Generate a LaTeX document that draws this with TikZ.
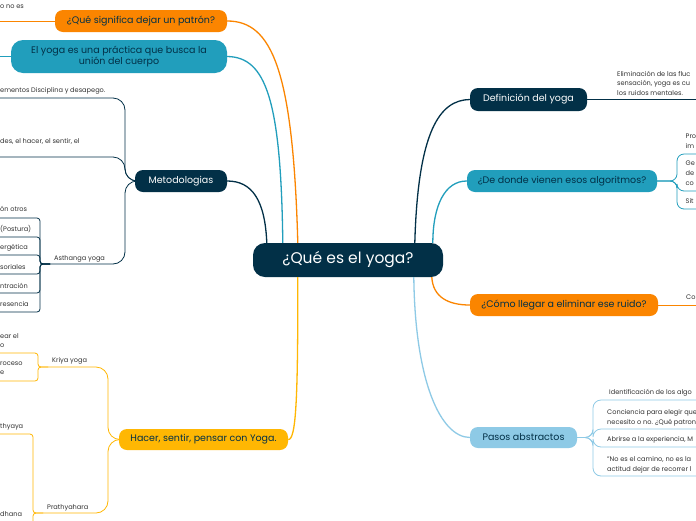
\documentclass[tikz,border=0pt]{standalone}
\usepackage{fontspec}
\setmainfont{Poppins}
\usetikzlibrary{calc}
\definecolor{cNavy}{HTML}{023047}
\definecolor{cTeal}{HTML}{219EBC}
\definecolor{cSky}{HTML}{8ECAE6}
\definecolor{cAmber}{HTML}{FFB703}
\definecolor{cOrange}{HTML}{FB8500}
\tikzset{
  topic/.style={rounded corners=8pt, inner sep=0pt, align=center, font=\fontsize{9.5}{11.5}\selectfont},
  subtext/.style={font=\fontsize{6.6}{8}\selectfont, text=black!80, inner sep=0pt},
  link/.style={line width=1.3pt},
  twig/.style={line width=0.8pt}
}
\begin{document}
\begin{tikzpicture}[x=1pt,y=-1pt]
\useasboundingbox (0,0) rectangle (696,520);
\fill[white] (0,0) rectangle (696,520);

% ---------- topics ----------
\node[topic, fill=cNavy, text=white, minimum width=190pt, minimum height=34pt, rounded corners=12pt, font=\fontsize{15.5}{17}\selectfont] (root) at (348,260) {¿Qué es el yoga?};
\node[topic, fill=cNavy, text=white, minimum width=117pt, minimum height=23pt] (def) at (528.5,99.5) {Definición del yoga};
\node[topic, fill=cTeal, text=cNavy, minimum width=190pt, minimum height=22pt] (alg) at (562,181) {¿De donde vienen esos algoritmos?};
\node[topic, fill=cOrange, text=cNavy, minimum width=188pt, minimum height=22pt] (como) at (564,305) {¿Cómo llegar a eliminar ese ruido?};
\node[topic, fill=cSky, text=cNavy, minimum width=107pt, minimum height=21pt] (pasos) at (523.5,437.5) {Pasos abstractos};
\node[topic, fill=cOrange, text=cNavy, minimum width=172pt, minimum height=22pt] (sig) at (141,21) {¿Qué significa dejar un patrón?};
\node[topic, fill=cTeal, text=cNavy, minimum width=216pt, minimum height=33pt, rounded corners=12pt] (union) at (119,56.5) {El yoga es una práctica que busca la\\unión del cuerpo};
\node[topic, fill=cNavy, text=white, minimum width=92pt, minimum height=22pt] (met) at (181,181) {Metodologias};
\node[topic, fill=cAmber, text=cNavy, minimum width=169pt, minimum height=21pt] (hacer) at (203.5,439.5) {Hacer, sentir, pensar con Yoga.};

% ---------- attachment points on the root ----------
\coordinate (rA) at ($(root.north west)+(14,0)$);
\coordinate (rB) at ($(root.north west)+(30,0)$);
\coordinate (rC) at ($(root.north west)+(45,0)$);
\coordinate (rD) at ($(root.south west)+(45,0)$);
\coordinate (rE) at ($(root.north west)+(162,0)$);
\coordinate (rF) at ($(root.north west)+(180,0)$);
\coordinate (rG) at ($(root.south west)+(179,0)$);
\coordinate (rH) at ($(root.south west)+(161,0)$);

% ---------- main connectors ----------
\draw[link, cNavy] (met.east) .. controls (252,181) and (265,200) .. (rA);
\draw[link, cTeal] (union.east) .. controls (266,57) and (281,100) .. (rB);
\draw[link, cOrange] (sig.east) .. controls (272,21) and (293,70) .. (rC);
\draw[link, cAmber] (hacer.east) .. controls (296,440) and (298,400) .. (rD);
\draw[link, cNavy] (def.west) .. controls (440,100) and (418,130) .. (rE);
\draw[link, cTeal] (alg.west) .. controls (445,181) and (433,205) .. (rF);
\draw[link, cOrange] (como.west) .. controls (448,305) and (433,297) .. (rG);
\draw[link, cSky] (pasos.west) .. controls (440,437) and (415,380) .. (rH);

% ---------- Definición ----------
\coordinate (defEnd) at (696,99.5);
\draw[twig, cNavy] (def.east) -- (defEnd);
\node[subtext, anchor=base west] (d1) at (617,76) {Eliminación de las fluc};
\node[subtext, anchor=base west] (d2) at (617,85.5) {sensación, yoga es cu};
\node[subtext, anchor=base west] (d3) at (617,95) {los ruidos mentales.};

% ---------- Algoritmos ----------
\coordinate (algJ) at (677,181);
\foreach \yy in {154,191,209}{
  \draw[twig, cTeal, rounded corners=7pt] (alg.east) -- (algJ) |- (696,\yy);
}
\node[subtext, anchor=base west] (a1) at (685.5,138.5) {Pro};
\node[subtext, anchor=base west] (a2) at (685.5,148.5) {im};
\node[subtext, anchor=base west] (a3) at (685.5,165.5) {Ge};
\node[subtext, anchor=base west] (a4) at (685.5,175.5) {de};
\node[subtext, anchor=base west] (a5) at (685.5,185.5) {co};
\node[subtext, anchor=base west] (a6) at (685.5,203) {Sit};

% ---------- Como ----------
\coordinate (comoEnd) at (696,305);
\draw[twig, cOrange] (como.east) -- (comoEnd);
\node[subtext, anchor=base west] (c1) at (686,299.5) {Co};

% ---------- Pasos ----------
\coordinate (pasJ) at (593,437.5);
\foreach \yy in {400,429,447,476}{
  \draw[twig, cSky, rounded corners=8pt] (pasos.east) -- (pasJ) |- (696,\yy);
}
\node[subtext, anchor=base west] (p1) at (609,394.5) {Identificación de los algo};
\node[subtext, anchor=base west] (p2) at (607,414) {Conciencia para elegir que};
\node[subtext, anchor=base west] (p3) at (607,424) {necesito o no. ¿Qué patron};
\node[subtext, anchor=base west] (p4) at (607,441.5) {Abrirse a la experiencia, M};
\node[subtext, anchor=base west] (p5) at (607,461) {"No es el camino, no es la};
\node[subtext, anchor=base west] (p6) at (607,471) {actitud dejar de recorrer l};

% ---------- Significa / unión ----------
\coordinate (sigEnd) at (0,21);
\draw[twig, cOrange] (sig.west) -- (sigEnd);
\node[subtext, anchor=base west] (s1) at (0,8.5) {o no es};
\coordinate (uniEnd) at (0,56.5);
\draw[twig, cTeal] (union.west) -- (uniEnd);

% ---------- Metodologias ----------
\coordinate (metJ) at (125,181);
\coordinate (asthJ) at (50,264);
\draw[twig, cNavy, rounded corners=12pt] (met.west) -- (metJ) |- (0,98);
\draw[twig, cNavy, rounded corners=12pt] (met.west) -- (metJ) |- (0,157);
\draw[twig, cNavy, rounded corners=12pt] (met.west) -- (metJ) |- (asthJ);
\node[subtext, anchor=base west] (m1) at (0,92.5) {ementos Disciplina y desapego.};
\node[subtext, anchor=base west] (m2) at (0,143.5) {des, el hacer, el sentir, el};
\node[subtext, anchor=base west] (asth) at (54,260.5) {Asthanga yoga};
\coordinate (asthS) at (40,264);
\foreach \yy in {218,237,255,274,293,312}{
  \draw[twig, cNavy, rounded corners=3pt] (asthJ) -- (asthS) |- (0,\yy);
}
\node[subtext, anchor=base west] (h1) at (0,211.5) {ón otros};
\node[subtext, anchor=base west] (h2) at (0,231) {(Postura)};
\node[subtext, anchor=base west] (h3) at (0,249.5) {ergética};
\node[subtext, anchor=base west] (h4) at (0,269) {soriales};
\node[subtext, anchor=base west] (h5) at (0,288) {ntración};
\node[subtext, anchor=base west] (h6) at (0,306.5) {resencia};

% ---------- Hacer ----------
\coordinate (hacJ) at (108,439.5);
\coordinate (kriJ) at (48,367);
\coordinate (praJ) at (43,513);
\draw[twig, cAmber, rounded corners=12pt] (hacer.west) -- (hacJ) |- (kriJ);
\draw[twig, cAmber, rounded corners=12pt] (hacer.west) -- (hacJ) |- (praJ);
\node[subtext, anchor=base west] (kri) at (52,362.5) {Kriya yoga};
\node[subtext, anchor=base west] (pra) at (47,509.5) {Prathyahara};
\coordinate (kriS) at (38,367);
\foreach \yy in {353,381}{
  \draw[twig, cAmber, rounded corners=3pt] (kriJ) -- (kriS) |- (0,\yy);
}
\node[subtext, anchor=base west] (k1) at (0,338.5) {ear el};
\node[subtext, anchor=base west] (k2) at (0,347.5) {o};
\node[subtext, anchor=base west] (k3) at (0,365.5) {roceso};
\node[subtext, anchor=base west] (k4) at (0,374.5) {e};
\coordinate (praS) at (33,513);
\foreach \yy in {434,526}{
  \draw[twig, cAmber, rounded corners=3pt] (praJ) -- (praS) |- (0,\yy);
}
\node[subtext, anchor=base west] (r1) at (0,428.5) {thyaya};
\node[subtext, anchor=base west] (r2) at (0,516) {dhana};
\end{tikzpicture}
\end{document}
